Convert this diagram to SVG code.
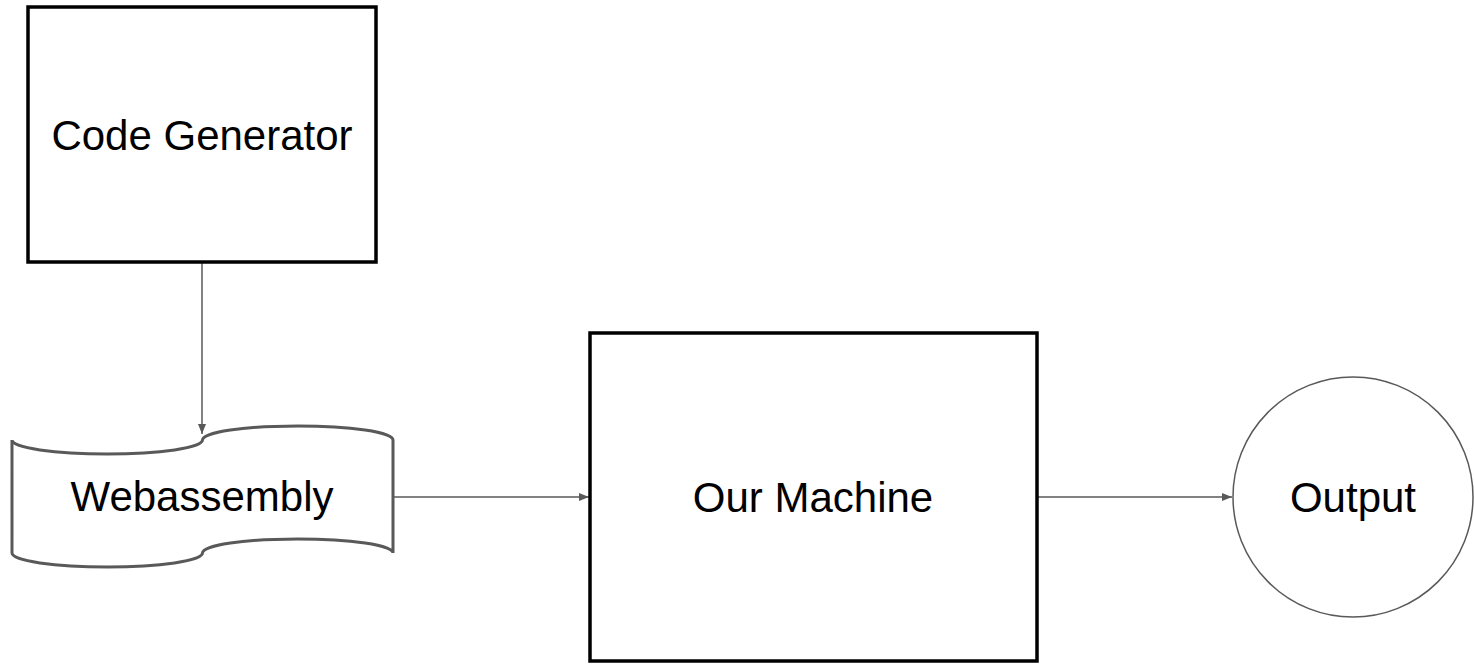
<svg xmlns="http://www.w3.org/2000/svg" width="1474" height="664" viewBox="0 0 1474 664">
<style>
.box{fill:#fff;stroke:#000;stroke-width:3.5}
.soft{fill:#fff;stroke:#595959}
.lbl{font-family:"Liberation Sans",Arial,sans-serif;font-size:42px;fill:#000;text-anchor:middle}
.conn{stroke:#595959;stroke-width:1.5;fill:none;marker-end:url(#arr)}
</style>
<defs>
<marker id="arr" viewBox="0 0 10 8" refX="10" refY="4" markerWidth="10" markerHeight="8" markerUnits="userSpaceOnUse" orient="auto">
<path d="M0,0 L10,4 L0,8 Z" fill="#595959"/>
</marker>
</defs>
<rect width="1474" height="664" fill="#fff"/>
<g id="connectors">
<line class="conn" x1="202" y1="263" x2="202" y2="434"/>
<line class="conn" x1="393" y1="497" x2="589" y2="497"/>
<line class="conn" x1="1037" y1="497" x2="1232" y2="497"/>
</g>
<g id="code-generator">
<rect class="box" x="28" y="7" width="348" height="255"/>
<text class="lbl" x="202" y="150">Code Generator</text>
</g>
<g id="webassembly">
<path class="soft" stroke-width="3" d="M12,440 A95.25,14 0 0 0 202.5,440 A95.25,14 0 0 1 393,440 L393,553 A95.25,14 0 0 0 202.5,553 A95.25,14 0 0 1 12,553 Z"/>
<text class="lbl" x="202" y="511">Webassembly</text>
</g>
<g id="our-machine">
<rect class="box" x="590" y="333" width="447" height="328"/>
<text class="lbl" x="813" y="512">Our Machine</text>
</g>
<g id="output">
<circle class="soft" stroke-width="1.5" cx="1353" cy="497" r="120"/>
<text class="lbl" x="1353" y="512">Output</text>
</g>
</svg>
